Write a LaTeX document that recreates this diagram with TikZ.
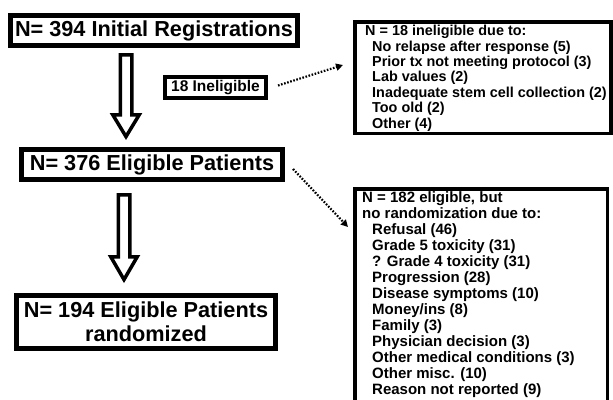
\documentclass[tikz,border=0pt]{standalone}
\usepackage{fontspec}
\setmainfont{Liberation Sans}
\usetikzlibrary{arrows.meta,calc}
\begin{document}
\begin{tikzpicture}[x=1pt,y=-1pt,
  mainbox/.style={draw, line width=5pt, font=\fontsize{21.7}{24}\selectfont\bfseries, inner sep=0pt, align=center},
  smallbox/.style={draw, line width=4pt, font=\fontsize{15.5}{18}\selectfont\bfseries, inner sep=0pt},
  listbox/.style={draw, line width=3.5pt, inner sep=0pt},
  listtext/.style={anchor=north west, inner sep=0pt, align=left, font=\fontsize{14.4}{15.4}\selectfont\bfseries},
  hollow/.style={draw, line width=3.5pt, line join=miter, fill=white},
  dotarrow/.style={line width=2.2pt, dash pattern=on 1.6pt off 1.6pt, -{Triangle[length=7pt,width=7pt]}}]
\useasboundingbox (0,0) rectangle (613,399);
\clip (0,0) rectangle (613,399);
\fill[white] (0,0) rectangle (613,399);

% main flow boxes
\node[mainbox, minimum width=287pt, minimum height=30pt] (b1) at (154,30.5) {N= 394 Initial Registrations};
\node[mainbox, minimum width=261pt, minimum height=30pt] (b2) at (152,164.5) {N= 376 Eligible Patients};
\node[mainbox, minimum width=259pt, minimum height=53pt] (b3) at (146,322) {N= 194 Eligible Patients\\randomized};
\node[smallbox, minimum width=101pt, minimum height=21pt] (ie) at (215.5,87.5) {18 Ineligible};

% list boxes
\node[listbox, anchor=north west, minimum width=256.25pt, minimum height=111.5pt] (r1) at (353,20) {};
\node[listbox, anchor=north west, minimum width=252.75pt, minimum height=230pt] (r2) at (353,187) {};

\node[listtext] (t1) at (365,25) {N = 18 ineligible due to:\\
\hspace*{7pt}No relapse after response (5)\\
\hspace*{7pt}Prior tx not meeting protocol (3)\\
\hspace*{7pt}Lab values (2)\\
\hspace*{7pt}Inadequate stem cell collection (2)\\
\hspace*{7pt}Too old (2)\\
\hspace*{7pt}Other (4)};

\node[listtext, font=\fontsize{15}{16}\selectfont\bfseries] (t2) at (362,191) {N = 182 eligible, but\\
no randomization due to:\\
\hspace*{10pt}Refusal (46)\\
\hspace*{10pt}Grade 5 toxicity (31)\\
\hspace*{10pt}? Grade 4 toxicity (31)\\
\hspace*{10pt}Progression (28)\\
\hspace*{10pt}Disease symptoms (10)\\
\hspace*{10pt}Money/ins (8)\\
\hspace*{10pt}Family (3)\\
\hspace*{10pt}Physician decision (3)\\
\hspace*{10pt}Other medical conditions (3)\\
\hspace*{10pt}Other misc. (10)\\
\hspace*{10pt}Reason not reported (9)};

% hollow block arrows
\draw[hollow] let \p1=(b1.south), \p2=(b2.north) in
  (120.25,\y1-6.75pt) -- (131.75,\y1-6.75pt) -- (131.75,\y2+32.25pt) -- (139.25,\y2+32.25pt)
  -- (126,\y2+10.4pt) -- (112.75,\y2+32.25pt) -- (120.25,\y2+32.25pt) -- cycle;
\draw[hollow] let \p1=(b2.south), \p2=(b3.north) in
  (118.25,\y1-12.75pt) -- (129.75,\y1-12.75pt) -- (129.75,\y2+36.25pt) -- (137.25,\y2+36.25pt)
  -- (124,\y2+13.4pt) -- (110.75,\y2+36.25pt) -- (118.25,\y2+36.25pt) -- cycle;

% dotted arrows
\draw[dotarrow] ($(ie.east)+(10,-2)$) -- ($(r1.west)+(-10,-12.5)$);
\draw[dotarrow] ($(b2.east)+(8,4.5)$) -- ($(r2.north west)+(-5,40)$);
\end{tikzpicture}
\end{document}
